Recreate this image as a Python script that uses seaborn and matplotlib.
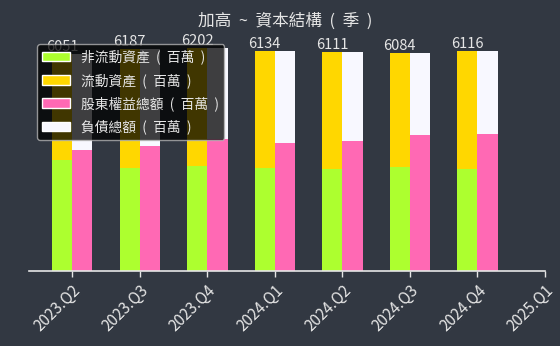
import matplotlib
matplotlib.use("Agg")
import matplotlib.pyplot as plt
from matplotlib.patches import Patch
import pandas as pd
import seaborn as sns

# values (millions)
quarters = ["2023.Q2", "2023.Q3", "2023.Q4", "2024.Q1", "2024.Q2", "2024.Q3", "2024.Q4", "2025.Q1"]
noncurrent = [3091, 2860, 2924, 2860, 2840, 2905, 2840]
current = [2960, 3327, 3278, 3274, 3271, 3179, 3276]
equity = [3370, 3489, 3676, 3556, 3629, 3787, 3815]
liabilities = [2681, 2698, 2526, 2578, 2482, 2297, 2301]

bg = "#323842"
fg = "#e6e6e6"
c_nc, c_cur, c_eq, c_li = "#adff2f", "#ffd700", "#ff69b4", "#f8f8ff"

sns.set_style("dark")
plt.rcParams["font.family"] = ["Noto Sans CJK TC", "DejaVu Sans"]

n = len(noncurrent)
assets_total = [a + b for a, b in zip(noncurrent, current)]
le_total = [a + b for a, b in zip(equity, liabilities)]

top = pd.DataFrame({
    "q": quarters[:n] * 2,
    "side": ["A"] * n + ["B"] * n,
    "v": assets_total + le_total,
})
bottom = pd.DataFrame({
    "q": quarters[:n] * 2,
    "side": ["A"] * n + ["B"] * n,
    "v": noncurrent + equity,
})

fig = plt.figure(figsize=(5.6, 3.46), dpi=100, facecolor=bg)
ax = fig.add_axes([29 / 560, 1 - 271 / 346, 516 / 560, 243 / 346])
ax.set_facecolor(bg)

sns.barplot(data=top, x="q", y="v", hue="side", order=quarters, hue_order=["A", "B"],
            palette=[c_cur, c_li], width=0.6, dodge=True, saturation=1,
            legend=False, ax=ax, gap=0, linewidth=0)
sns.barplot(data=bottom, x="q", y="v", hue="side", order=quarters, hue_order=["A", "B"],
            palette=[c_nc, c_eq], width=0.6, dodge=True, saturation=1,
            legend=False, ax=ax, gap=0, linewidth=0)

for i, t in enumerate(assets_total):
    ax.text(i - 0.15, t, str(t), ha="center", va="bottom", color=fg, fontsize=10.5)

ax.set_xlim(-0.64, 7)
ax.set_ylim(0, 6767)
ax.set_xlabel("")
ax.set_ylabel("")
ax.set_yticks([])
ax.grid(False)
for s in ["left", "right", "top"]:
    ax.spines[s].set_visible(False)
ax.spines["bottom"].set_color(fg)
ax.spines["bottom"].set_linewidth(1.2)
ax.tick_params(axis="x", colors=fg, length=4, width=1, direction="out", bottom=True,
               labelsize=11, pad=4)
plt.setp(ax.get_xticklabels(), rotation=45, ha="right", rotation_mode="anchor")

handles = [Patch(facecolor=c_nc), Patch(facecolor=c_cur), Patch(facecolor=c_eq), Patch(facecolor=c_li)]
labels = ["非流動資產  (  百萬  )", "流動資產  (  百萬  )", "股東權益總額  (  百萬  )", "負債總額  (  百萬  )"]
leg = ax.legend(handles, labels, loc="upper left", bbox_to_anchor=(0.0155, 0.934),
                borderaxespad=0, fontsize=9.9, frameon=True, facecolor="black",
                edgecolor="#bbbbbb", framealpha=0.75, labelcolor=fg, labelspacing=0.62)
leg.get_frame().set_linewidth(1)

fig.text(0.51, 1 - 21 / 346, "加高  ~  資本結構  (  季  )", ha="center", va="center",
         color=fg, fontsize=12)

fig.savefig("out.png", dpi=100, facecolor=bg)
